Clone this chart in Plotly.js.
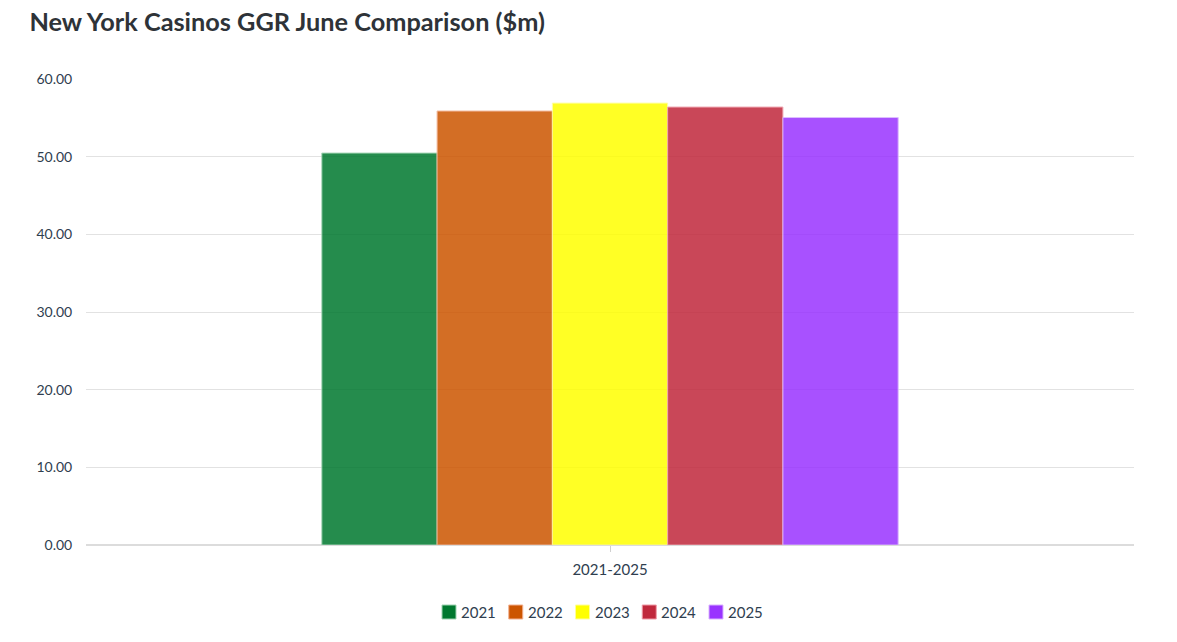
<!DOCTYPE html>
<html>
<head>
<meta charset="utf-8">
<script src="https://cdn.plot.ly/plotly-3.0.1.min.js"></script>
<style>html,body{margin:0;padding:0;background:#fff;}#chart{width:1177px;height:642px;}</style>
</head>
<body>
<div id="chart"></div>
<script>
const categories = ["2021-2025"];
const years = ["2021", "2022", "2023", "2024", "2025"];
const values = [50.47, 55.88, 56.9, 56.39, 55.04];
const colors = ["#00782f", "#cc5500", "#ffff00", "#c0283c", "#9933ff"];
const lineColors = ["#9fd3b2", "#f2b08f", "#ffff99", "#ee9aa6", "#d9b3ff"];

const traces = years.map((y, i) => ({
  type: "bar",
  name: y,
  x: categories,
  y: [values[i]],
  marker: {color: colors[i], opacity: 0.85, line: {color: lineColors[i], width: 1}},
  hoverinfo: "name+y",
  showlegend: false
}));

// Layout geometry (pixels)
const W = 1177, H = 642;
const M = {l: 86, r: 43, t: 79, b: 97};
const plotW = W - M.l - M.r, plotH = H - M.t - M.b;
const px = x => (x - M.l) / plotW;
const py = y => (H - M.b - y) / plotH;

// Custom compact legend, built from the years/colors arrays
const legStart = 442, legStep = 66.75, legY = 612, sq = 14;
const shapes = years.map((y, i) => ({
  type: "rect", xref: "paper", yref: "paper",
  x0: px(legStart + i * legStep), x1: px(legStart + i * legStep + sq),
  y0: py(legY + sq / 2), y1: py(legY - sq / 2),
  fillcolor: colors[i], line: {color: lineColors[i], width: 1}
}));
const annotations = years.map((y, i) => ({
  xref: "paper", yref: "paper", x: px(legStart + i * legStep + sq + 3), y: py(legY),
  xanchor: "left", yanchor: "middle", showarrow: false, text: y,
  font: {size: 15, color: "#2f3e4f"}
}));

const font = "Lato, 'Source Sans Pro', sans-serif";
const layout = {
  width: W, height: H,
  margin: M,
  paper_bgcolor: "#fff", plot_bgcolor: "#fff",
  font: {family: font, size: 14, color: "#2f3e4f"},
  title: {text: "<b>New York Casinos GGR June Comparison ($m)</b>", x: 0.025, xanchor: "left", y: 0.965, yanchor: "middle",
          font: {family: font, size: 25.3, color: "#2e3338"}},
  barmode: "group",
  bargap: 0.45,
  bargroupgap: 0,
  xaxis: {showgrid: false, ticks: "outside", ticklen: 6, tickcolor: "#d0d0d0", showline: false, zeroline: false,
          ticklabelstandoff: 5, tickfont: {size: 15, color: "#2f3e4f"}},
  yaxis: {range: [0, 60], dtick: 10, tickformat: ".2f", showgrid: true, gridcolor: "#e2e2e2", gridwidth: 1,
          zeroline: true, zerolinecolor: "#dcdcdc", zerolinewidth: 2, showline: false,
          ticks: "outside", ticklen: 10, tickcolor: "rgba(0,0,0,0)", tickfont: {size: 14, color: "#2f3e4f"}},
  shapes: shapes,
  annotations: annotations,
  showlegend: false
};
Plotly.newPlot("chart", traces, layout, {displayModeBar: false});
</script>
</body>
</html>
